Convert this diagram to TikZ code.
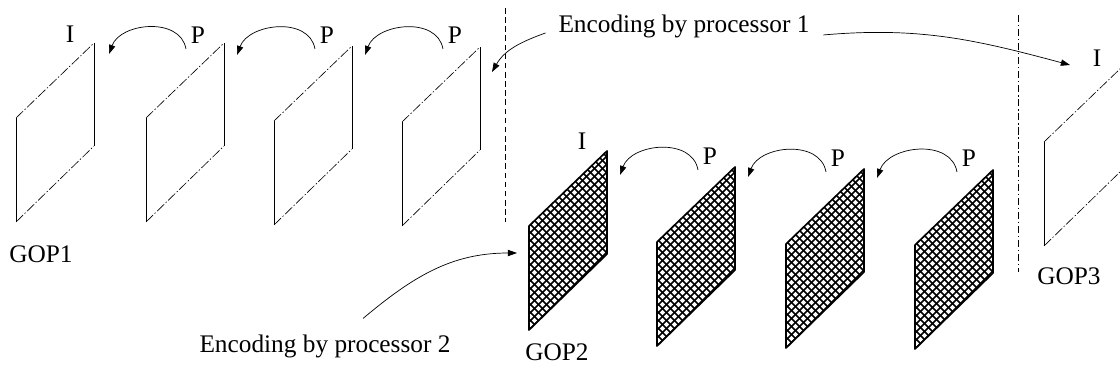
\documentclass[tikz,border=0pt]{standalone}
\usepackage{fontspec}
\setmainfont{Liberation Serif}
\usetikzlibrary{arrows.meta}
\tikzset{
  lbl/.style={font=\fontsize{18}{20}\selectfont, anchor=base},
  vedge/.style={line width=0.5pt},
  dedge/.style={line width=0.45pt, dash pattern=on 7pt off 1.5pt on 1pt off 1.5pt},
  hatch/.style={line width=1.1pt},
  hedge/.style={line width=1.2pt, line join=round},
  back/.style={-{Triangle[length=6.5pt,width=4.5pt]}, line width=0.5pt},
  sep/.style={line width=0.6pt, dash pattern=on 4pt off 2.5pt},
  sepdot/.style={line width=0.6pt, dash pattern=on 5pt off 2pt on 1pt off 2pt}
}
% frame drawn from its lower left corner
\newcommand\plainframe[3]{%
  \coordinate (#1) at (#2,#3);
  \draw[vedge] (#1) -- ++(0,104) (#1) ++(78,76) -- ++(0,103);
  \draw[dedge] (#1) ++(0,104) -- ++(78,75) (#1) -- ++(78,76);
}
\newcommand\hatchframe[3]{%
  \coordinate (#1) at (#2,#3);
  \begin{scope}
    \clip (#1) -- ++(0,104) -- ++(78,75) -- ++(0,-103) -- cycle;
    \foreach \k in {-23,...,11} {
      \draw[hatch] (#2+8*\k,#3) -- ++(200,200);
      \draw[hatch] (#2+8*\k,#3+179) -- ++(200,-200);
    }
  \end{scope}
  \draw[hedge] (#1) -- ++(0,104) -- ++(78,75) -- ++(0,-103) -- cycle;
}

\begin{document}
\begin{tikzpicture}[x=0.025cm, y=0.025cm]
  \clip (0,0) rectangle (1120,375);

  % GOP1
  \plainframe{f11}{16}{153}
  \plainframe{f12}{146}{153}
  \plainframe{f13}{274}{150}
  \plainframe{f14}{402}{149}
  \node[lbl] (i1) at (70,332) {I};
  \node[lbl] (p12) at (198,331) {P};
  \node[lbl] (p13) at (327,331) {P};
  \node[lbl] (p14) at (455,331) {P};
  \node[lbl] (gop1) at (41,112) {GOP1};

  % GOP2
  \hatchframe{f21}{529}{45}
  \hatchframe{f22}{657}{29}
  \hatchframe{f23}{786}{27}
  \hatchframe{f24}{915}{26}
  \node[lbl] (i2) at (582,225) {I};
  \node[lbl] (p22) at (710,210) {P};
  \node[lbl] (p23) at (838,208) {P};
  \node[lbl] (p24) at (969,208) {P};
  \node[lbl] (gop2) at (557,14) {GOP2};

  % GOP3
  \plainframe{f31}{1044}{129}
  \node[lbl] (i3) at (1097,308) {I};
  \node[lbl] (gop3) at (1069,90) {GOP3};

  \draw[sep] (505,367) -- (505,153);
  \draw[sepdot] (1018,360) -- (1018,103);

  \node[lbl] (enc1) at (684,342) {Encoding by processor 1};
  \node[lbl] (enc2) at (325,22) {Encoding by processor 2};

  \coordinate (t11) at (109,321);
  \coordinate (t12) at (237,320);
  \coordinate (t13) at (365,320);
  \coordinate (t21) at (620,200);
  \coordinate (t22) at (748,198);
  \coordinate (t23) at (877,197);
  \coordinate (t14) at (492,303);
  \coordinate (t31) at (1070,310);
  \coordinate (t20) at (517,122);

  \draw[back] (p12.south west) to[out=100,in=70,looseness=1.1] (t11);
  \draw[back] (p13.south west) to[out=100,in=70,looseness=1.1] (t12);
  \draw[back] (p14.south west) to[out=100,in=70,looseness=1.1] (t13);
  \draw[back] (p22.south west) to[out=100,in=70,looseness=1.1] (t21);
  \draw[back] (p23.south west) to[out=100,in=70,looseness=1.1] (t22);
  \draw[back] (p24.south west) to[out=100,in=70,looseness=1.1] (t23);
  \draw[back] ([shift={(-8,-6)}]enc1.west) to[out=200,in=60] (t14);
  \draw[back] ([shift={(9,-8)}]enc1.east) to[out=5,in=165] (t31);
  \draw[back] ([shift={(38,12)}]enc2.north) to[out=40,in=180] (t20);
\end{tikzpicture}
\end{document}
